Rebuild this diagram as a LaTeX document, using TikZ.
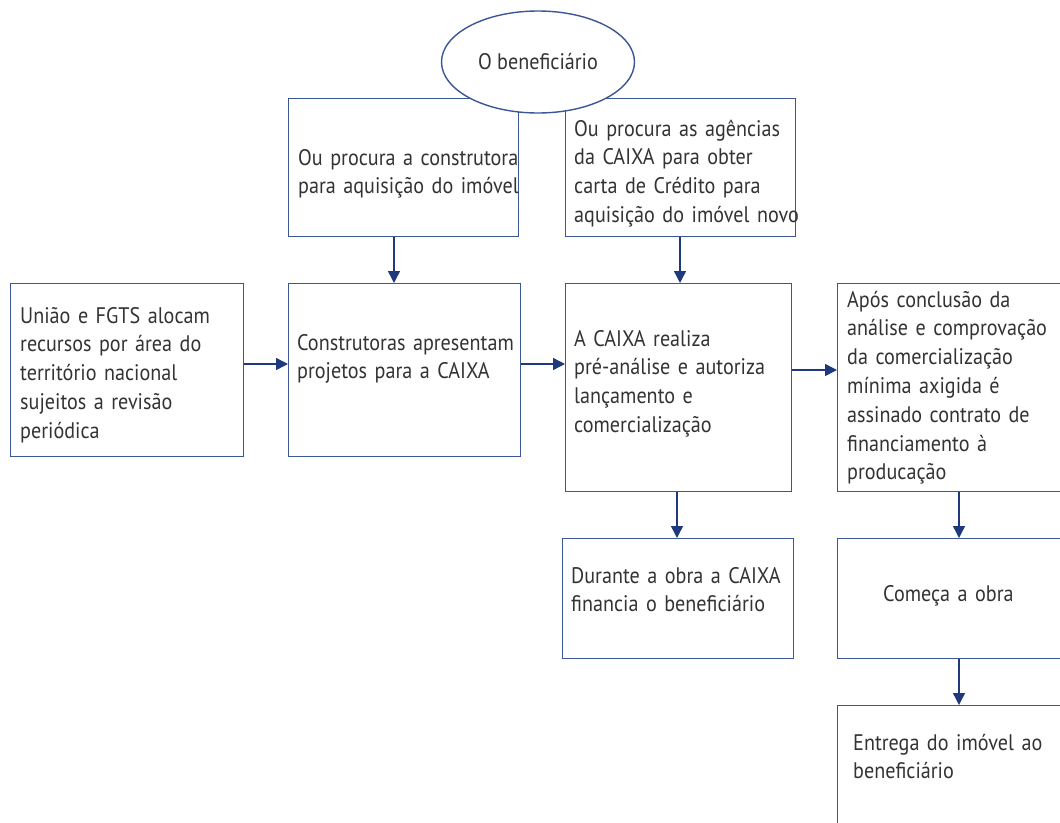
\documentclass[tikz,border=0pt]{standalone}
\usepackage{fontspec}
\setmainfont{PT Sans}[FakeStretch=0.895]
\usetikzlibrary{arrows.meta,shapes.geometric}
\definecolor{boxline}{HTML}{3A5695}
\definecolor{arrowc}{HTML}{1F3A7C}
\definecolor{txt}{HTML}{333333}
\tikzset{
  box/.style={draw=boxline,line width=1.4pt,fill=white,rectangle,anchor=north west,inner sep=0pt},
  lbl/.style={anchor=base west,inner sep=0pt,align=left,text width=250pt,text=txt,font=\fontsize{22.5}{28.8}\selectfont},
  arr/.style={draw=arrowc,line width=1.4pt,-{Triangle[length=12pt,width=12pt]}}
}
\begin{document}
\begin{tikzpicture}[x=1pt,y=-1pt]
\useasboundingbox (0,0) rectangle (1060,822);
\clip (0,0) rectangle (1060,822);
% boxes
\node[box,minimum width=230pt,minimum height=138pt] (b1) at (288,98) {};
\node[box,minimum width=230pt,minimum height=138pt] (b2) at (565,98) {};
\node[box,minimum width=233pt,minimum height=173pt] (u) at (10,283) {};
\node[box,minimum width=232pt,minimum height=173pt] (c) at (288,283) {};
\node[box,minimum width=226pt,minimum height=208pt] (k) at (565,283) {};
\node[box,minimum width=260pt,minimum height=208pt] (r) at (837,283) {};
\node[box,minimum width=231pt,minimum height=120pt] (d) at (562,538) {};
\node[box,minimum width=260pt,minimum height=120pt] (o) at (837,538) {};
\node[box,minimum width=260pt,minimum height=160pt] (e) at (837,705) {};
% ellipse
\node[ellipse,draw=boxline,line width=1.4pt,fill=white,minimum width=193pt,minimum height=102pt,inner sep=0pt,text=txt,font=\fontsize{22.5}{28.8}\selectfont] (ben) at (538,62) {O beneficiário};
% texts
\node[lbl] (t1) at (298,165) {Ou procura a construtora\\para aquisição do imóvel};
\node[lbl] (t2) at (574,136) {Ou procura as agências\\da CAIXA para obter\\carta de Crédito para\\aquisição do imóvel novo};
\node[lbl] (tu) at (20,323) {União e FGTS alocam\\recursos por área do\\território nacional\\sujeitos a revisão\\periódica};
\node[lbl] (tc) at (297,350) {Construtoras apresentam\\projetos para a CAIXA};
\node[lbl] (tk) at (574,346) {A CAIXA realiza\\pré-análise e autoriza\\lançamento e\\comercialização};
\node[lbl] (tr) at (847,307) {Após conclusão da\\análise e comprovação\\da comercialização\\mínima axigida é\\assinado contrato de\\financiamento à\\producação};
\node[lbl] (td) at (571,583) {Durante a obra a CAIXA\\financia o beneficiário};
\node[lbl] (to) at (883,601) {Começa a obra};
\node[lbl] (te) at (853,750) {Entrega do imóvel ao\\beneficiário};
% arrows
\draw[arr] (b1.south -| 394,0) -- (c.north -| 394,0);
\draw[arr] (b2.south -| 680,0) -- (k.north -| 680,0);
\draw[arr] (u.east |- 0,364) -- (c.west |- 0,364);
\draw[arr] (c.east |- 0,364) -- (k.west |- 0,364);
\draw[arr] (k.east |- 0,370) -- (r.west |- 0,370);
\draw[arr] (k.south -| 677,0) -- (d.north -| 677,0);
\draw[arr] (r.south -| 959,0) -- (o.north -| 959,0);
\draw[arr] (o.south -| 959,0) -- (e.north -| 959,0);
\end{tikzpicture}
\end{document}
